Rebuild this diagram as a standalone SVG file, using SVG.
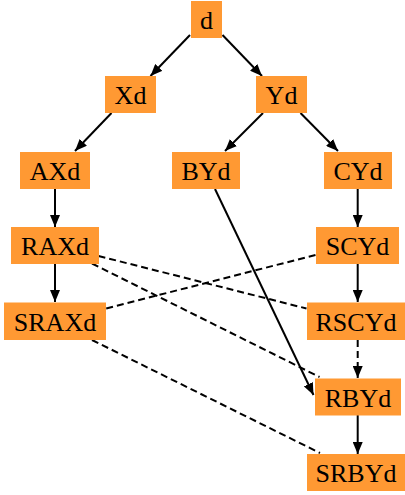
<svg xmlns="http://www.w3.org/2000/svg" width="405" height="495" viewBox="0 0 405 495">
<style>
.n rect{fill:#ff9933;stroke:none}
.n text{font-family:"Liberation Serif","Times New Roman",serif;font-size:26px;fill:#000;text-anchor:middle}
.e line{stroke:#000;stroke-width:2;fill:none}
.e .a{marker-end:url(#arr)}
.e .d{stroke-dasharray:7,4}
</style>
<defs>
<marker id="arr" markerUnits="userSpaceOnUse" markerWidth="12" markerHeight="10" refX="12" refY="5" orient="auto">
<path d="M0,0 L12,5 L0,10 z" fill="#000"/>
</marker>
</defs>
<rect width="405" height="495" fill="#fff"/>
<g id="edges" class="e">
<line class="a" x1="190" y1="35" x2="150.5" y2="76"/>
<line class="a" x1="222.5" y1="35" x2="262" y2="76"/>
<line class="a" x1="111.5" y1="113" x2="75" y2="151"/>
<line class="a" x1="263" y1="113" x2="225" y2="151"/>
<line class="a" x1="300.5" y1="113" x2="338" y2="151"/>
<line class="a" x1="55" y1="189" x2="55" y2="227"/>
<line class="a" x1="357.7" y1="189" x2="357.7" y2="227"/>
<line class="a" x1="215" y1="189" x2="313.5" y2="395"/>
<line class="a" x1="55" y1="264" x2="55" y2="302"/>
<line class="a" x1="357.7" y1="264" x2="357.7" y2="302"/>
<line class="a d" x1="357.7" y1="340" x2="357.7" y2="378"/>
<line class="a" x1="357.7" y1="415" x2="357.7" y2="454"/>
<line class="d" x1="98.5" y1="256" x2="306.5" y2="308.5"/>
<line class="d" x1="92" y1="263.5" x2="319.5" y2="377"/>
<line class="d" x1="315.5" y1="255" x2="106" y2="308.5"/>
<line class="d" x1="92" y1="340" x2="320" y2="453"/>
</g>
<g id="n_d" class="n"><rect x="191" y="1" width="31" height="37"/><text x="206.5" y="28.5">d</text></g>
<g id="n_Xd" class="n"><rect x="105" y="76" width="51" height="37"/><text x="130.5" y="104">Xd</text></g>
<g id="n_Yd" class="n"><rect x="256" y="76" width="51" height="37"/><text x="281.5" y="104">Yd</text></g>
<g id="n_AXd" class="n"><rect x="20" y="152" width="70" height="37"/><text x="55" y="180">AXd</text></g>
<g id="n_BYd" class="n"><rect x="172" y="152" width="68" height="37"/><text x="206" y="180">BYd</text></g>
<g id="n_CYd" class="n"><rect x="324" y="152" width="68" height="37"/><text x="358" y="180">CYd</text></g>
<g id="n_RAXd" class="n"><rect x="11" y="227" width="88" height="37"/><text x="55" y="255">RAXd</text></g>
<g id="n_SCYd" class="n"><rect x="316" y="227" width="83" height="37"/><text x="357.5" y="255">SCYd</text></g>
<g id="n_SRAXd" class="n"><rect x="4" y="302.5" width="102" height="37.5"/><text x="55" y="331">SRAXd</text></g>
<g id="n_RSCYd" class="n"><rect x="307" y="302.5" width="98" height="37.5"/><text x="356" y="331">RSCYd</text></g>
<g id="n_RBYd" class="n"><rect x="315" y="378.5" width="86" height="37"/><text x="358" y="406.5">RBYd</text></g>
<g id="n_SRBYd" class="n"><rect x="307" y="454" width="98" height="37"/><text x="356" y="482">SRBYd</text></g>
</svg>
